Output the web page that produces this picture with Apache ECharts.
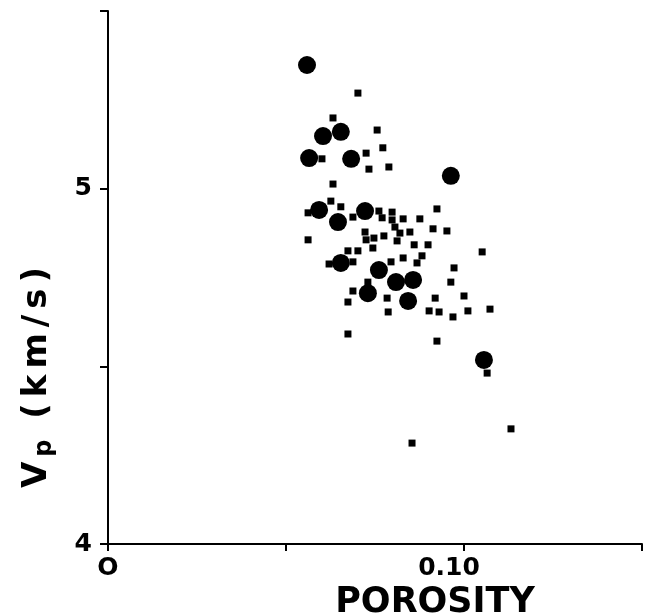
<!DOCTYPE html>
<html><head><meta charset="utf-8">
<script src="https://cdn.jsdelivr.net/npm/echarts@6.0.0/dist/echarts.min.js"></script>
<style>html,body{margin:0;padding:0;background:#fff}#c{width:647px;height:616px}</style>
</head><body><div id="c"></div>
<script>
// Large circles
const circlePorosity = [0.0559,0.0604,0.0654,0.0565,0.0683,0.0963,0.0593,0.0646,0.0722,0.0654,0.0761,0.0809,0.0857,0.0730,0.0843,0.1056];
const circleVp       = [5.348,5.148,5.160,5.086,5.084,5.036,4.940,4.906,4.937,4.791,4.771,4.737,4.743,4.706,4.684,4.518];
// Small squares
const squarePorosity = [0.0702,0.0632,0.0756,0.0772,0.0725,0.0601,0.0733,0.0789,0.0632,0.0626,
  0.0654,0.0562,0.0688,0.0761,0.0770,0.0798,0.0798,0.0829,0.0876,0.0924,
  0.0806,0.0820,0.0848,0.0913,0.0952,0.0722,0.0725,0.0747,0.0775,0.0812,
  0.0562,0.0674,0.0702,0.0744,0.0860,0.0899,0.0829,0.0882,0.0868,0.0795,
  0.0621,0.0688,0.0972,0.0963,0.0730,0.1051,0.0688,0.0674,0.0784,0.0787,
  0.0919,0.0902,0.0930,0.0969,0.1000,0.1011,0.1073,0.0674,0.0924,0.1065,
  0.1132,0.0854];
const squareVp = [5.269,5.199,5.165,5.115,5.100,5.084,5.055,5.061,5.013,4.965,
  4.949,4.932,4.920,4.937,4.918,4.934,4.912,4.915,4.915,4.943,
  4.892,4.875,4.878,4.887,4.881,4.878,4.856,4.861,4.867,4.853,
  4.856,4.825,4.825,4.833,4.842,4.842,4.805,4.811,4.791,4.794,
  4.788,4.794,4.777,4.737,4.737,4.822,4.712,4.681,4.692,4.653,
  4.692,4.656,4.653,4.639,4.698,4.656,4.661,4.591,4.571,4.481,
  4.324,4.284];
// Tick labels
const xTickLabels = {0: 'O', 0.1: '0.10'};
const yTickLabels = {4: '4', 5: '5'};

const FONT = 'DejaVu Sans';
const zip = (a, b) => a.map((v, i) => [v, b[i]]);

const chart = echarts.init(document.getElementById('c'));
chart.setOption({
  animation: false,
  backgroundColor: '#fff',
  grid: {left: 108, right: 5, top: 11, bottom: 72, containLabel: false, outerBoundsMode: 'none'},
  xAxis: {
    type: 'value', min: 0, max: 0.15, interval: 0.05,
    name: 'POROSITY', nameLocation: 'middle', nameGap: 39,
    nameTextStyle: {fontFamily: FONT, fontWeight: 'bold', fontSize: 35, color: '#000', padding: [0, 0, 0, 120]},
    axisLine: {lineStyle: {color: '#000', width: 2}},
    axisTick: {length: 7, lineStyle: {color: '#000', width: 2}},
    splitLine: {show: false},
    axisLabel: {
      margin: 12, color: '#000', fontFamily: FONT, fontWeight: 'bold', fontSize: 25,
      formatter: v => {
        const k = Math.round(v * 100) / 100;
        if (k === 0) return xTickLabels[0];
        if (k === 0.1) return '{s|' + xTickLabels[0.1] + '}';
        return '';
      },
      rich: {s: {fontFamily: FONT, fontWeight: 'bold', fontSize: 25, color: '#000', padding: [0, 30, 0, 0]}}
    }
  },
  yAxis: {
    type: 'value', min: 4, max: 5.5, interval: 0.5,
    name: '{v|V}{s|p}{c| (}{c|k}{c|m}{c|/}{c|s}{c|)}', nameLocation: 'middle', nameRotate: 90, nameGap: 50,
    nameTextStyle: {
      fontFamily: FONT, fontWeight: 'bold', fontSize: 34, color: '#000', padding: [0, 197, 0, 0],
      rich: {
        v: {fontFamily: FONT, fontWeight: 'bold', fontSize: 34, color: '#000', lineHeight: 42, padding: [0, 3, 0, 0]},
        c: {fontFamily: FONT, fontWeight: 'bold', fontSize: 34, color: '#000', lineHeight: 42, padding: [0, 3, 0, 3]},
        s: {fontFamily: FONT, fontWeight: 'bold', fontSize: 24, color: '#000', lineHeight: 24, padding: [16, 6, 0, 2]}
      }
    },
    axisLine: {lineStyle: {color: '#000', width: 2}},
    axisTick: {length: 8, lineStyle: {color: '#000', width: 2}},
    splitLine: {show: false},
    axisLabel: {
      margin: 16, color: '#000', fontFamily: FONT, fontWeight: 'bold', fontSize: 25,
      formatter: v => yTickLabels[Math.round(v * 10) / 10] || ''
    }
  },
  series: [
    {type: 'scatter', symbol: 'rect', symbolSize: 7, itemStyle: {color: '#000', opacity: 1}, data: zip(squarePorosity, squareVp), z: 2},
    {type: 'scatter', symbol: 'circle', symbolSize: 18, itemStyle: {color: '#000', opacity: 1}, data: zip(circlePorosity, circleVp), z: 3}
  ]
});
</script>
</body></html>
